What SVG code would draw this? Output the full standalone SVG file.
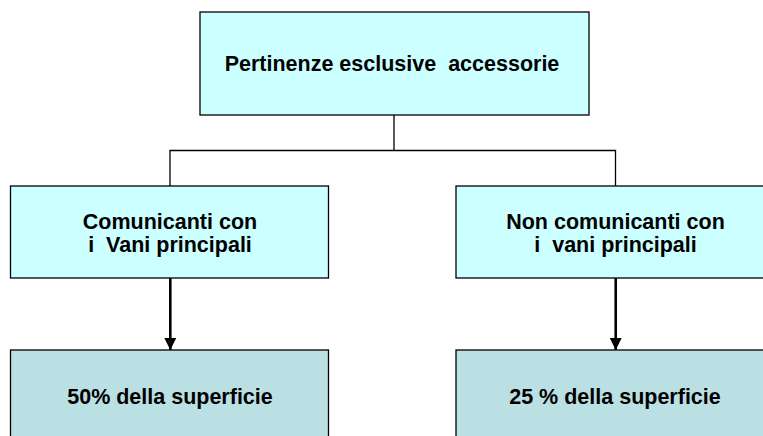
<svg xmlns="http://www.w3.org/2000/svg" width="763" height="436" viewBox="0 0 763 436">
<style>
.top{fill:#CCFFFF;stroke:#000;stroke-width:1.3}
.bot{fill:#BBE0E3;stroke:#000;stroke-width:1.3}
.t{font-family:"Liberation Sans",Arial,sans-serif;font-weight:bold;font-size:21.5px;fill:#000;text-anchor:middle}
.ln{fill:none;stroke:#000;stroke-width:1.3}
.ar{fill:none;stroke:#000;stroke-width:2.6}
</style>
<defs>
<marker id="ah" viewBox="0 0 10 10" refX="10" refY="5" markerUnits="userSpaceOnUse" markerWidth="12" markerHeight="12" orient="auto">
<path d="M0,0 L10,5 L0,10 z" fill="#000"/>
</marker>
</defs>
<rect width="763" height="436" fill="#fff"/>
<g id="connectors">
<path class="ln" d="M394,115 V150.5 M170,186 V150.5 H615.5 V186"/>
<path class="ar" d="M170.3,278 V350" marker-end="url(#ah)"/>
<path class="ar" d="M615.7,278 V350" marker-end="url(#ah)"/>
</g>
<g id="n-top">
<rect class="top" x="200" y="12" width="389" height="103"/>
<text class="t" x="392" y="71" xml:space="preserve">Pertinenze esclusive  accessorie</text>
</g>
<g id="n-left">
<rect class="top" x="10.5" y="186" width="318" height="92"/>
<text class="t" x="170" y="228.5">Comunicanti con</text>
<text class="t" x="170" y="252" xml:space="preserve">i  Vani principali</text>
</g>
<g id="n-right">
<rect class="top" x="456" y="186" width="320" height="92"/>
<text class="t" x="615.5" y="228.5">Non comunicanti con</text>
<text class="t" x="615.5" y="252" xml:space="preserve">i  vani principali</text>
</g>
<g id="n-left-bottom">
<rect class="bot" x="10.5" y="350" width="318" height="100"/>
<text class="t" x="170" y="404">50% della superficie</text>
</g>
<g id="n-right-bottom">
<rect class="bot" x="456" y="350" width="320" height="100"/>
<text class="t" x="615" y="404">25 % della superficie</text>
</g>
</svg>
